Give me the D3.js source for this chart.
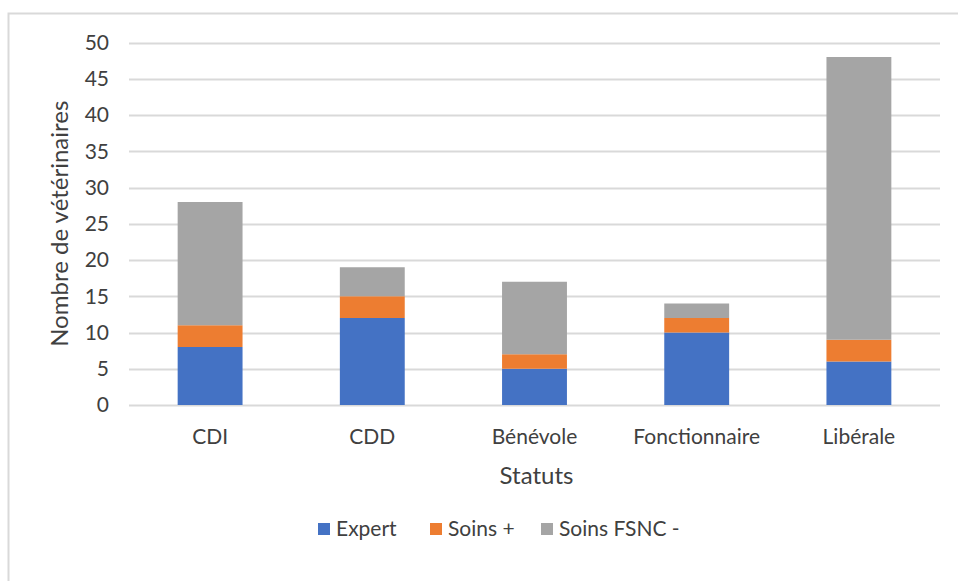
<!DOCTYPE html>
<html>
<head>
<meta charset="utf-8">
<script src="https://cdn.jsdelivr.net/npm/d3@7"></script>
<style>
  body { margin: 0; background: #fff; }
  text { font-family: Lato, "Open Sans", sans-serif; fill: #404040; }
</style>
</head>
<body>
<div id="container"></div>
<script>
// data
const statuts = ["CDI", "CDD", "Bénévole", "Fonctionnaire", "Libérale"];
const expert = [8, 12, 5, 10, 6];
const soinsPlus = [3, 3, 2, 2, 3];
const soinsFsnc = [17, 4, 10, 2, 39];
const seriesNames = ["Expert", "Soins +", "Soins FSNC -"];
const yTicks = [0, 5, 10, 15, 20, 25, 30, 35, 40, 45, 50];
const colors = ["#4472C4", "#ED7D31", "#A5A5A5"];

const w = 958, h = 581;
const m = { top: 42.5, right: 18, bottom: 176, left: 129 };

const rows = statuts.map((s, i) => ({
  statut: s,
  "Expert": expert[i],
  "Soins +": soinsPlus[i],
  "Soins FSNC -": soinsFsnc[i]
}));
const stacked = d3.stack().keys(seriesNames)(rows);

const svg = d3.select("#container").append("svg")
  .attr("width", w)
  .attr("height", h);

// chart border
svg.append("path")
  .attr("d", `M8.5,${h} V13.5 H${w}`)
  .attr("fill", "none")
  .attr("stroke", "#d9d9d9")
  .attr("stroke-width", 2);

const x = d3.scaleBand()
  .domain(statuts)
  .range([m.left, w - m.right])
  .padding(0);

const y = d3.scaleLinear()
  .domain([0, 50])
  .range([h - m.bottom, m.top]);

// gridlines
svg.append("g")
  .selectAll("line")
  .data(yTicks)
  .enter()
  .append("line")
  .attr("x1", m.left)
  .attr("x2", w - m.right)
  .attr("y1", d => Math.round(y(d)) + 0.5)
  .attr("y2", d => Math.round(y(d)) + 0.5)
  .attr("stroke", "#d9d9d9")
  .attr("stroke-width", 2);

// y tick labels
svg.append("g")
  .selectAll("text")
  .data(yTicks)
  .enter()
  .append("text")
  .attr("x", 109)
  .attr("y", d => y(d))
  .attr("dy", "0.35em")
  .attr("text-anchor", "end")
  .style("font-size", "21px")
  .text(d => d);

// bars
const barW = x.bandwidth() * 0.4;
svg.append("g")
  .selectAll("g")
  .data(stacked)
  .enter()
  .append("g")
  .attr("fill", (d, i) => colors[i])
  .selectAll("rect")
  .data(d => d)
  .enter()
  .append("rect")
  .attr("x", d => x(d.data.statut) + (x.bandwidth() - barW) / 2)
  .attr("width", barW)
  .attr("y", d => y(d[1]))
  .attr("height", d => y(d[0]) - y(d[1]));

// x labels
svg.append("g")
  .selectAll("text")
  .data(statuts)
  .enter()
  .append("text")
  .attr("x", d => x(d) + x.bandwidth() / 2)
  .attr("y", 437)
  .attr("dy", "0.35em")
  .attr("text-anchor", "middle")
  .style("font-size", "21px")
  .text(d => d);

// axis titles
svg.append("text")
  .attr("x", (m.left + w - m.right) / 2 + 2)
  .attr("y", 476)
  .attr("dy", "0.35em")
  .attr("text-anchor", "middle")
  .style("font-size", "24px")
  .text("Statuts");

svg.append("text")
  .attr("transform", `translate(60, ${y(25)}) rotate(-90)`)
  .attr("dy", "0.35em")
  .attr("text-anchor", "middle")
  .style("font-size", "24px")
  .text("Nombre de vétérinaires");

// legend
const legendX = [318, 430, 541];
const legend = svg.append("g")
  .selectAll("g")
  .data(seriesNames)
  .enter()
  .append("g")
  .attr("transform", (d, i) => `translate(${legendX[i]}, 529)`);

legend.append("rect")
  .attr("x", 0)
  .attr("y", -6)
  .attr("width", 12)
  .attr("height", 12)
  .attr("fill", (d, i) => colors[i]);

legend.append("text")
  .attr("x", 18)
  .attr("y", 0)
  .attr("dy", "0.35em")
  .style("font-size", "21px")
  .text(d => d);
</script>
</body>
</html>
